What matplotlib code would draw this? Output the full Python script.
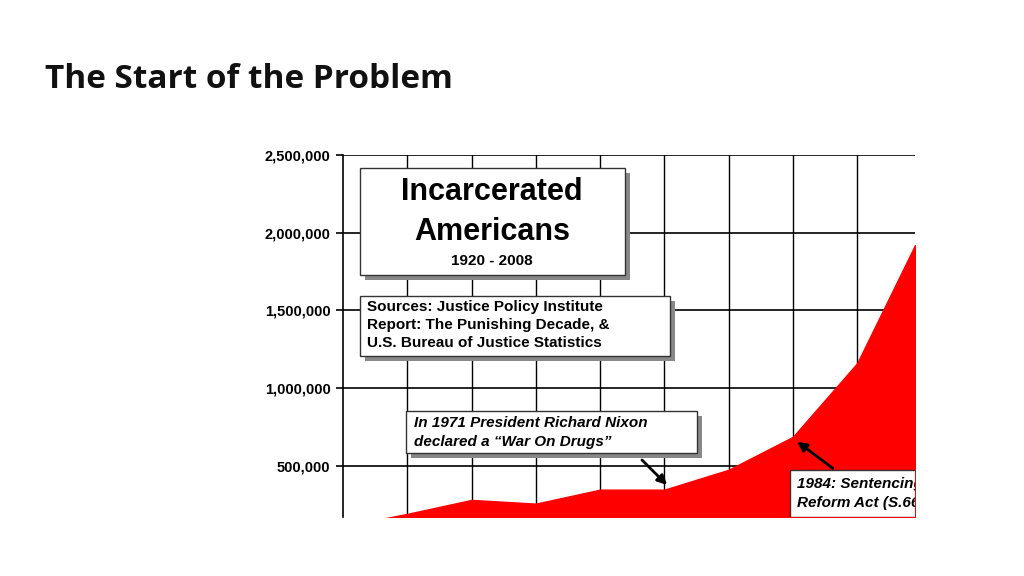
import matplotlib
matplotlib.use("Agg")
import matplotlib.pyplot as plt
from matplotlib.patches import Rectangle, FancyArrowPatch

years = [1920, 1930, 1940, 1950, 1960, 1970, 1980, 1990, 2000, 2009]
inmates = [110000, 190000, 280000, 256000, 346000, 346000, 474000, 686000, 1160000, 1920000]
yticks = [500000, 1000000, 1500000, 2000000, 2500000]
ytick_labels = ["500,000", "1,000,000", "1,500,000", "2,000,000", "2,500,000"]
xgrid = [1930, 1940, 1950, 1960, 1970, 1980, 1990, 2000]

W, H = 1024, 576
fig = plt.figure(figsize=(W/100, H/100), dpi=100)
def fx(px): return px / W
def fy(py): return 1 - py / H

fig.text(fx(45), fy(80), "The Start of the Problem", fontsize=24, fontweight="bold",
         family="Open Sans", va="center", color="#111111")

ax = fig.add_axes([fx(343), fy(517), fx(915) - fx(343), fy(155) - fy(517)])
ax.set_xlim(1920, 2009)
ax.set_ylim(170000, 2500000)
ax.fill_between(years, inmates, 0, color="#ff0000", zorder=3)
for y in yticks:
    ax.axhline(y, color="black", lw=1.2, zorder=1)
for x in xgrid:
    ax.axvline(x, color="black", lw=1.0, zorder=1)
ax.set_yticks(yticks)
ax.set_yticklabels(ytick_labels, fontsize=10.5, fontweight="bold", family="Liberation Sans")
ax.set_xticks([])
ax.tick_params(axis="y", length=5, width=1.2, pad=4)
for s in ["top", "right", "bottom"]:
    ax.spines[s].set_visible(False)
ax.spines["left"].set_linewidth(1.2)

def box(x0, y0, x1, y1, lines, clip=False):
    sh = Rectangle((fx(x0 + 5), fy(y1 + 5)), fx(x1 - x0), fy(y0) - fy(y1),
                   transform=fig.transFigure, facecolor="#888888", edgecolor="none", zorder=5)
    bx = Rectangle((fx(x0), fy(y1)), fx(x1 - x0), fy(y0) - fy(y1),
                   transform=fig.transFigure, facecolor="white", edgecolor="#333333", lw=1, zorder=6)
    for p in (sh, bx):
        fig.add_artist(p)
        if clip:
            p.set_clip_path(ax.patch)
    for (tx, ty, s, kw) in lines:
        t = fig.text(fx(tx), fy(ty), s, zorder=7, family="Liberation Sans", va="center", **kw)
        if clip:
            t.set_clip_path(ax.patch)

box(360, 168, 625, 275, [
    (492, 192, "Incarcerated", dict(fontsize=22, fontweight="bold", ha="center")),
    (492, 232, "Americans", dict(fontsize=22, fontweight="bold", ha="center")),
    (492, 261, "1920 - 2008", dict(fontsize=11, fontweight="bold", ha="center")),
])
box(360, 296, 670, 356, [
    (367, 307, "Sources: Justice Policy Institute", dict(fontsize=11, fontweight="bold")),
    (367, 325, "Report: The Punishing Decade, &", dict(fontsize=11, fontweight="bold")),
    (367, 343, "U.S. Bureau of Justice Statistics", dict(fontsize=11, fontweight="bold")),
])
box(406, 411, 697, 453, [
    (414, 423, "In 1971 President Richard Nixon", dict(fontsize=11, fontweight="bold", style="italic")),
    (414, 442, "declared a \u201cWar On Drugs\u201d", dict(fontsize=11, fontweight="bold", style="italic")),
])
box(790, 470, 960, 517, [
    (797, 484, "1984: Sentencing", dict(fontsize=11, fontweight="bold", style="italic")),
    (797, 503, "Reform Act (S.668)", dict(fontsize=11, fontweight="bold", style="italic")),
], clip=True)

for (x0, y0, x1, y1) in [(640, 458, 669, 487), (835, 470, 795, 440)]:
    fig.add_artist(FancyArrowPatch(
        (fx(x0), fy(y0)), (fx(x1), fy(y1)), transform=fig.transFigure,
        arrowstyle="-|>", mutation_scale=14, lw=2, color="black", zorder=8))

fig.savefig("out.png", dpi=100)
